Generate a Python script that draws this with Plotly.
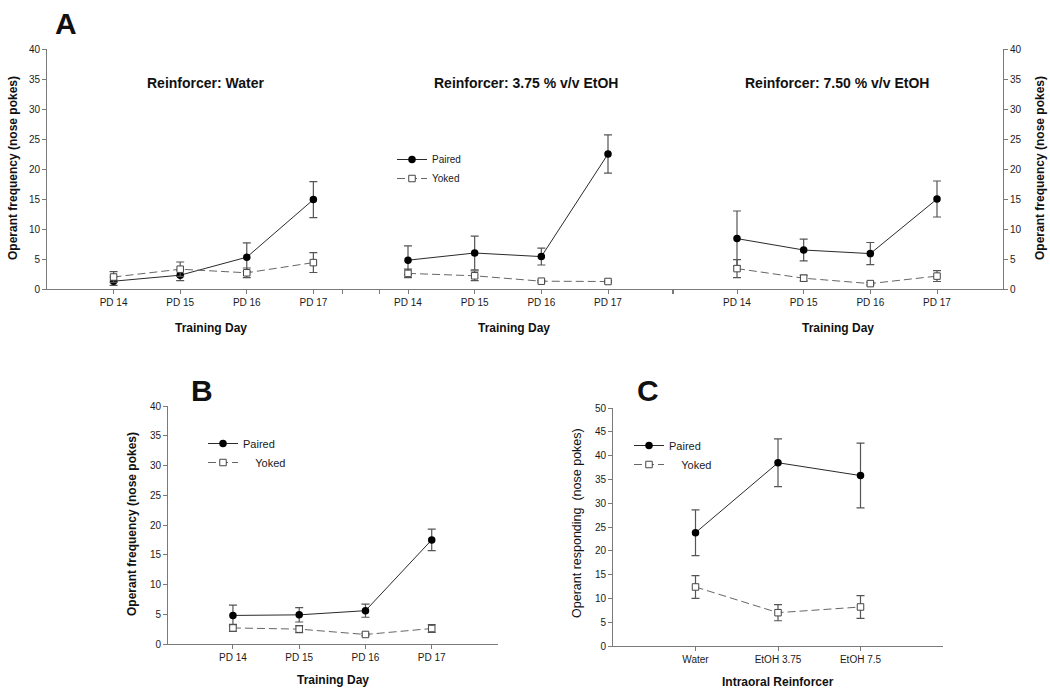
import plotly.graph_objects as go

W, H = 1050, 692

# ---------------- data ----------------
days = ["PD 14", "PD 15", "PD 16", "PD 17"]

water_paired = [1.3, 2.3, 5.3, 14.9]
water_paired_err = [0.7, 0.9, 2.4, 3.0]
water_yoked = [2.0, 3.3, 2.7, 4.4]
water_yoked_err = [0.9, 1.2, 0.8, 1.65]

etoh375_paired = [4.8, 6.0, 5.4, 22.5]
etoh375_paired_err = [2.4, 2.8, 1.4, 3.2]
etoh375_yoked = [2.6, 2.2, 1.3, 1.25]
etoh375_yoked_err = [0.7, 0.8, 0.15, 0.15]

etoh750_paired = [8.4, 6.5, 5.9, 15.0]
etoh750_paired_err = [4.6, 1.8, 1.85, 3.0]
etoh750_yoked = [3.4, 1.8, 0.9, 2.15]
etoh750_yoked_err = [1.5, 0.5, 0.2, 0.9]

b_paired = [4.8, 4.9, 5.6, 17.5]
b_paired_err = [1.75, 1.2, 1.1, 1.8]
b_yoked = [2.7, 2.5, 1.6, 2.6]
b_yoked_err = [0.6, 0.6, 0.2, 0.65]

reinforcers = ["Water", "EtOH 3.75", "EtOH 7.5"]
c_paired = [23.8, 38.5, 35.8]
c_paired_err = [4.8, 5.0, 6.8]
c_yoked = [12.4, 7.0, 8.2]
c_yoked_err = [2.4, 1.7, 2.4]

panel_titles = ["Reinforcer: Water", "Reinforcer: 3.75 % v/v EtOH", "Reinforcer: 7.50 % v/v EtOH"]

# ---------------- helpers ----------------
FONT = "Arial, Liberation Sans, sans-serif"
TXT = "#1a1a1a"
AX = "#7a7a7a"

def px(x):
    return x / W

def py(y):
    return 1 - y / H

def paired_trace(xs, ys, err, xa, ya, show, legend="legend", name="Paired"):
    return go.Scatter(
        x=xs, y=ys, mode="lines+markers", name=name, xaxis=xa, yaxis=ya,
        showlegend=show, legend=legend,
        line=dict(color="#2a2a2a", width=1),
        marker=dict(symbol="circle", size=7.5, color="#000000", line=dict(width=0)),
        error_y=dict(type="data", array=err, color="#555555", thickness=1.2, width=4),
    )

def yoked_trace(xs, ys, err, xa, ya, show, legend="legend", name="Yoked"):
    return go.Scatter(
        x=xs, y=ys, mode="lines+markers", name=name, xaxis=xa, yaxis=ya,
        showlegend=show, legend=legend,
        line=dict(color="#666666", width=1, dash="8px,4px"),
        marker=dict(symbol="square", size=6.5, color="#ffffff", line=dict(color="#444444", width=1)),
        error_y=dict(type="data", array=err, color="#555555", thickness=1.2, width=4),
    )

pos4 = [1, 2, 3, 4]
pos3 = [1, 2, 3]

fig = go.Figure()

# Panel A (three sub-panels)
fig.add_trace(paired_trace(pos4, water_paired, water_paired_err, "x", "y", False))
fig.add_trace(yoked_trace(pos4, water_yoked, water_yoked_err, "x", "y", False))
fig.add_trace(paired_trace(pos4, etoh375_paired, etoh375_paired_err, "x2", "y2", True, "legend"))
fig.add_trace(yoked_trace(pos4, etoh375_yoked, etoh375_yoked_err, "x2", "y2", True, "legend"))
fig.add_trace(paired_trace(pos4, etoh750_paired, etoh750_paired_err, "x3", "y3", False))
fig.add_trace(yoked_trace(pos4, etoh750_yoked, etoh750_yoked_err, "x3", "y3", False))

# Panel B
fig.add_trace(paired_trace(pos4, b_paired, b_paired_err, "x4", "y4", True, "legend2"))
fig.add_trace(yoked_trace(pos4, b_yoked, b_yoked_err, "x4", "y4", True, "legend2",
                          name="\u00a0\u00a0\u00a0\u00a0Yoked"))

# Panel C
fig.add_trace(paired_trace(pos3, c_paired, c_paired_err, "x5", "y5", True, "legend3"))
fig.add_trace(yoked_trace(pos3, c_yoked, c_yoked_err, "x5", "y5", True, "legend3",
                          name="\u00a0\u00a0\u00a0\u00a0Yoked"))

tickfont = dict(family=FONT, size=10, color=TXT)

def xax(domain_px, rng, tickvals, ticktext, anchor):
    return dict(
        domain=[px(domain_px[0]), px(domain_px[1])], range=rng, anchor=anchor,
        tickmode="array", tickvals=tickvals, ticktext=ticktext, automargin=False,
        showline=True, linecolor=AX, linewidth=1, ticks="outside", ticklen=4,
        tickcolor=AX, tickfont=tickfont, showgrid=False, zeroline=False, fixedrange=True,
    )

def yax(domain_px, rng, dtick, anchor, side="left", visible=True):
    return dict(
        domain=[py(domain_px[0]), py(domain_px[1])], range=rng, anchor=anchor, side=side,
        tickmode="linear", tick0=0, dtick=dtick, visible=visible, automargin=False,
        showline=True, linecolor=AX, linewidth=1, ticks="outside", ticklen=4,
        tickcolor=AX, tickfont=tickfont, showgrid=False, zeroline=False, fixedrange=True,
    )

A_Y = (289, 49)

fig.update_layout(
    width=W, height=H,
    margin=dict(l=0, r=0, t=0, b=0, autoexpand=False),
    paper_bgcolor="white", plot_bgcolor="rgba(0,0,0,0)",
    font=dict(family=FONT, color=TXT),
    xaxis=xax((47, 342), [0, 4.43], [1, 2, 3, 4, 4.43], days + [""], "y"),
    yaxis=yax(A_Y, [0, 40], 5, "x"),
    xaxis2=xax((342, 672), [0.01, 4.96], [0.565, 1, 2, 3, 4, 4.96], [""] + days + [""], "y2"),
    yaxis2=yax(A_Y, [0, 40], 5, "x2", visible=False),
    xaxis3=xax((672, 1003), [0.025, 4.99], [0.04, 1, 2, 3, 4], [""] + days, "y3"),
    yaxis3=yax(A_Y, [0, 40], 5, "x3", side="right"),
    xaxis4=xax((168, 498), [0.02, 5.0], [1, 2, 3, 4], days, "y4"),
    yaxis4=yax((644, 406), [0, 40], 5, "x4"),
    xaxis5=xax((613, 943), [0, 4], [1, 2, 3], reinforcers, "y5"),
    yaxis5=yax((646, 408), [0, 50], 5, "x5"),
    legend=dict(x=px(392), y=py(145), xanchor="left", yanchor="top",
                bgcolor="rgba(0,0,0,0)", font=dict(family=FONT, size=10, color=TXT),
                tracegroupgap=0, itemwidth=30, traceorder="normal"),
    legend2=dict(x=px(203), y=py(429), xanchor="left", yanchor="top",
                 bgcolor="rgba(0,0,0,0)", font=dict(family=FONT, size=11, color=TXT),
                 tracegroupgap=0, itemwidth=30, traceorder="normal"),
    legend3=dict(x=px(629), y=py(431), xanchor="left", yanchor="top",
                 bgcolor="rgba(0,0,0,0)", font=dict(family=FONT, size=11, color=TXT),
                 tracegroupgap=0, itemwidth=30, traceorder="normal"),
)

ann = []

def text(x, y, s, size, bold=False, angle=0, xanchor="center"):
    ann.append(dict(
        x=px(x), y=py(y), xref="paper", yref="paper", text=(f"<b>{s}</b>" if bold else s),
        showarrow=False, textangle=angle, xanchor=xanchor, yanchor="middle",
        font=dict(family=FONT, size=size, color="#111111"),
    ))

# panel letters
text(66, 24, "A", 30, bold=True)
text(202, 390, "B", 30, bold=True)
text(648, 390, "C", 30, bold=True)

# panel A titles
for cx, t in zip([206, 526, 837], panel_titles):
    text(cx, 83, t, 14, bold=True)

# x-axis titles
for cx in [211, 514, 838]:
    text(cx, 328, "Training Day", 12, bold=True)
text(333, 680, "Training Day", 12, bold=True)
text(778, 682, "Intraoral Reinforcer", 12, bold=True)

# y-axis titles
text(13, 168, "Operant frequency (nose pokes)", 12, bold=True, angle=-90)
text(1040, 168, "Operant frequency (nose pokes)", 12, bold=True, angle=-90)
text(132, 524, "Operant frequency (nose pokes)", 12, bold=True, angle=-90)
text(577, 523, "Operant responding&nbsp;&nbsp;(nose pokes)", 12.5, angle=-90)

fig.update_layout(annotations=ann)

fig.write_html(
    "out.html",
    config={"displayModeBar": False},
    post_script="document.body.style.margin='0';document.body.style.overflow='hidden';",
)
